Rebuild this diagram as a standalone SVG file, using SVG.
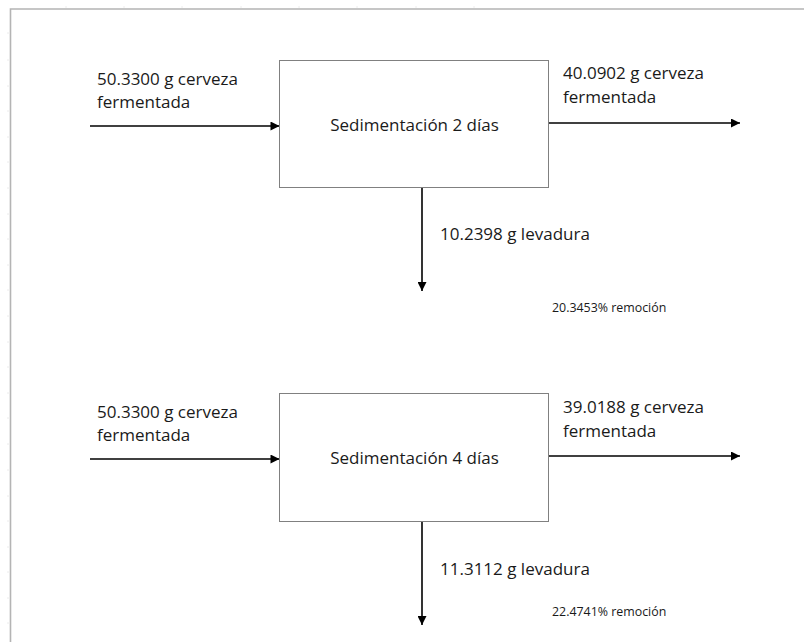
<svg xmlns="http://www.w3.org/2000/svg" width="804" height="642" viewBox="0 0 804 642">
<defs>
<marker id="ah" viewBox="0 0 10 10" refX="10" refY="5" markerWidth="10" markerHeight="9" markerUnits="userSpaceOnUse" orient="auto">
<path d="M0,0 L10,5 L0,10 Z" fill="#000"/>
</marker>
<style>
.lbl{font-family:"Open Sans","Liberation Sans",sans-serif;font-size:17px;fill:#1a1a1a}
.sm{font-family:"Open Sans","Liberation Sans",sans-serif;font-size:12.4px;fill:#1a1a1a}
.box{fill:#fff;stroke:#808080;stroke-width:1}
.arr{stroke:#000;stroke-width:1.6;fill:none;marker-end:url(#ah)}
.frame{stroke:#b4b4b4;stroke-width:1.6;fill:none}
.tick{stroke:#ececec;stroke-width:1;fill:none}
</style>
</defs>
<rect width="804" height="642" fill="#fff"/>
<g id="frame">
<path class="frame" d="M10.5,642 V9 H804"/>
<path class="tick" d="M66,6 V8 M124,6 V8 M182,6 V8 M241,6 V8 M299,6 V8 M357,6 V8 M416,6 V8 M474,6 V8 M7,33 H9.5 M7,60 H9.5 M7,86 H9.5 M7,111 H9.5 M7,137 H9.5 M7,162 H9.5 M7,188 H9.5 M7,214 H9.5 M7,239 H9.5 M7,265 H9.5 M7,290 H9.5 M7,316 H9.5 M7,342 H9.5 M7,367 H9.5 M7,393 H9.5 M7,418 H9.5 M7,444 H9.5 M7,470 H9.5 M7,496 H9.5 M7,521 H9.5 M7,547 H9.5 M7,572 H9.5 M7,598 H9.5 M7,623 H9.5"/>
</g>
<g id="connectors">
<line class="arr" x1="90" y1="126" x2="279.5" y2="126"/>
<line class="arr" x1="549" y1="123" x2="740" y2="123"/>
<line class="arr" x1="422" y1="188" x2="422" y2="291"/>
<line class="arr" x1="90" y1="459" x2="279.5" y2="459"/>
<line class="arr" x1="549" y1="456" x2="740" y2="456"/>
<line class="arr" x1="422" y1="522" x2="422" y2="625"/>
</g>
<g id="node1">
<rect class="box" x="279.5" y="60.5" width="269" height="127"/>
<text class="lbl" x="414.5" y="131" text-anchor="middle">Sedimentación 2 días</text>
</g>
<g id="node2">
<rect class="box" x="279.5" y="393.5" width="269" height="128"/>
<text class="lbl" x="414.5" y="464" text-anchor="middle">Sedimentación 4 días</text>
</g>
<g id="labels1">
<text class="lbl" x="97" y="85">50.3300 g cerveza</text>
<text class="lbl" x="97" y="108">fermentada</text>
<text class="lbl" x="563" y="79">40.0902 g cerveza</text>
<text class="lbl" x="563" y="103">fermentada</text>
<text class="lbl" x="440" y="240">10.2398 g levadura</text>
<text class="sm" x="552" y="312">20.3453% remoción</text>
</g>
<g id="labels2">
<text class="lbl" x="97" y="418">50.3300 g cerveza</text>
<text class="lbl" x="97" y="441">fermentada</text>
<text class="lbl" x="563" y="413">39.0188 g cerveza</text>
<text class="lbl" x="563" y="437">fermentada</text>
<text class="lbl" x="440" y="575">11.3112 g levadura</text>
<text class="sm" x="552" y="616">22.4741% remoción</text>
</g>
</svg>
